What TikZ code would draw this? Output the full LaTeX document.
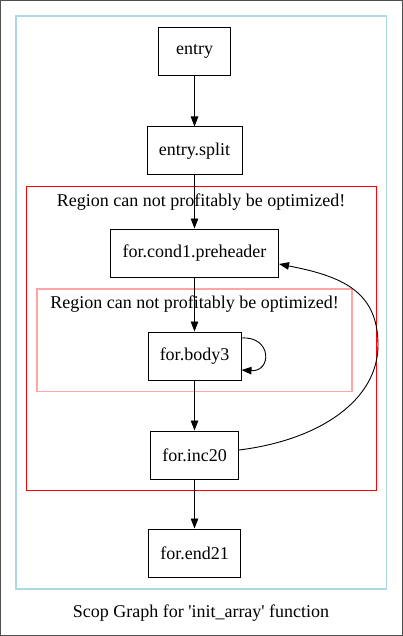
\documentclass[tikz,border=0pt]{standalone}
\usepackage{fontspec}
\setmainfont{Liberation Serif}
\usetikzlibrary{arrows.meta}
\definecolor{lblue}{RGB}{173,216,230}
\definecolor{lpink}{RGB}{255,165,165}
\definecolor{dgray}{RGB}{80,80,80}
\begin{document}
\begin{tikzpicture}[x=1pt,y=-1pt,
  blk/.style={draw=black,line width=1pt,minimum height=48pt,inner sep=0pt,font=\fontsize{18}{20}\selectfont},
  edge/.style={line width=0.9pt,-{Triangle[length=10pt,width=7.5pt]}},
  lbl/.style={font=\fontsize{18}{20}\selectfont,inner sep=0pt}]
\useasboundingbox (0,0) rectangle (403,636);
\draw[draw=dgray,line width=1pt] (0.5,0.5) rectangle (402.5,635.5);
\draw[draw=lblue,line width=1.2pt] (16,16) rectangle (386.5,589);
\draw[red,line width=1pt] (26.5,187) rectangle (376,490);
\draw[draw=lpink,line width=1.2pt] (37,289) rectangle (352,391.5);
\node[lbl] (r1) at (201,202) {Region can not profitably be optimized!};
\node[lbl] (r2) at (194.5,304) {Region can not profitably be optimized!};
\node[blk,minimum width=72.5pt] (entry) at (194.5,51.5) {entry};
\node[blk,minimum width=95pt] (split) at (194.5,151) {entry.split};
\node[blk,minimum width=168pt] (pre) at (194.5,253) {for.cond1.preheader};
\node[blk,minimum width=93pt] (body) at (194.5,356) {for.body3};
\node[blk,minimum width=88pt] (inc) at (194.5,455) {for.inc20};
\node[blk,minimum width=92pt] (end) at (194.5,553) {for.end21};
\node[lbl] (cap) at (201,613) {Scop Graph for \textquotesingle init\_array\textquotesingle{} function};
\draw[edge] (entry) -- (split);
\draw[edge] (split) -- (pre);
\draw[edge] (pre) -- (body);
\draw[edge] (body) -- (inc);
\draw[edge] (inc) -- (end);
\draw[edge] ([yshift=18pt]body.east) .. controls (272,336) and (272,372) .. ([yshift=-14pt]body.east);
\draw[edge] ([yshift=5pt]inc.east) .. controls (320,440) and (378,400) .. (378,345) .. controls (378,290) and (340,276) .. ([yshift=-11pt]pre.east);
\end{tikzpicture}
\end{document}
